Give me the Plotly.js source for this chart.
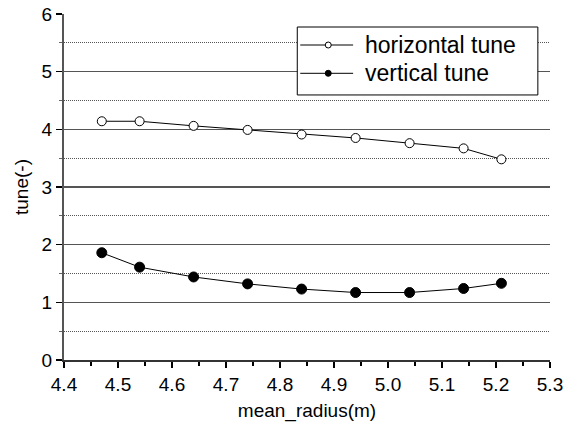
<!DOCTYPE html>
<html>
<head>
<meta charset="utf-8">
<script src="https://cdn.plot.ly/plotly-3.0.1.min.js"></script>
<style>html,body{margin:0;padding:0;background:#fff}#chart{width:565px;height:428px}</style>
</head>
<body>
<div id="chart"></div>
<script>
// Mean radius (m) and betatron tunes
const meanRadius = [4.47, 4.54, 4.64, 4.74, 4.84, 4.94, 5.04, 5.14, 5.21];
const horizontalTune = [4.14, 4.14, 4.06, 3.99, 3.91, 3.85, 3.76, 3.67, 3.48];
const verticalTune = [1.86, 1.61, 1.44, 1.32, 1.23, 1.17, 1.17, 1.24, 1.33];
const xTickLabels = ['4.4', '4.5', '4.6', '4.7', '4.8', '4.9', '5.0', '5.1', '5.2', '5.3'];
const seriesNames = ['horizontal tune', 'vertical tune'];
const xTickValues = xTickLabels.map(Number);

const font = {family: 'Liberation Sans, Arial, sans-serif', color: '#000'};
const f = size => Object.assign({size: size}, font);

const traces = [
  {
    x: meanRadius, y: horizontalTune, name: seriesNames[0],
    mode: 'lines+markers', type: 'scatter',
    line: {color: '#000', width: 1},
    marker: {symbol: 'circle', size: 9, color: '#fff', line: {color: '#000', width: 1}}
  },
  {
    x: meanRadius, y: verticalTune, name: seriesNames[1],
    mode: 'lines+markers', type: 'scatter',
    line: {color: '#000', width: 1},
    marker: {symbol: 'circle', size: 10, color: '#000', line: {color: '#000', width: 1}}
  }
];

// Boxed key in the upper right: frame, a short line with a small marker, and a label per series
const key = {x0: 0.48, x1: 0.975, y0: 0.766, y1: 0.9624,
             lineX0: 0.4861, lineX1: 0.5949, dotX: 0.5437, textX: 0.6156,
             rows: [0.9104, 0.8286], fills: ['#fff', '#000']};
const shapes = [{
  type: 'rect', xref: 'paper', yref: 'paper',
  x0: key.x0, x1: key.x1, y0: key.y0, y1: key.y1,
  line: {color: '#000', width: 1}, fillcolor: '#fff', layer: 'above'
}];
const annotations = [];
key.rows.forEach((ry, i) => {
  shapes.push({type: 'line', xref: 'paper', yref: 'paper', x0: key.lineX0, x1: key.lineX1, y0: ry, y1: ry,
               line: {color: '#000', width: 1}, layer: 'above'});
  shapes.push({type: 'circle', xref: 'paper', yref: 'paper', xsizemode: 'pixel', ysizemode: 'pixel',
               xanchor: key.dotX, yanchor: ry, x0: -3, x1: 3, y0: -3, y1: 3,
               fillcolor: key.fills[i], line: {color: '#000', width: 1}, layer: 'above'});
  annotations.push({xref: 'paper', yref: 'paper', x: key.textX, y: ry, xanchor: 'left', yanchor: 'middle',
                    text: seriesNames[i], showarrow: false, font: f(23)});
});

const layout = {
  width: 565, height: 428,
  margin: {l: 63.5, r: 15, t: 14, b: 68},
  paper_bgcolor: '#fff', plot_bgcolor: '#fff',
  font: f(19),
  showlegend: false,
  shapes: shapes,
  annotations: annotations,
  xaxis: {
    range: [4.4, 5.3], tickmode: 'array', tickvals: xTickValues, ticktext: xTickLabels,
    showgrid: false, zeroline: false,
    showline: true, linecolor: '#333', linewidth: 2,
    ticks: 'outside', ticklen: 6, tickwidth: 1.5, tickcolor: '#000',
    minor: {dtick: 0.05, ticks: 'outside', ticklen: 4, tickwidth: 1.5, tickcolor: '#000', showgrid: false},
    tickfont: f(19),
    title: {text: 'mean_radius(m)', font: f(19), standoff: 10}
  },
  yaxis: {
    range: [0, 6], dtick: 1, tick0: 0,
    showgrid: true, gridcolor: '#555', gridwidth: 1.2,
    zeroline: false,
    showline: true, linecolor: '#555', linewidth: 2,
    ticks: 'outside', ticklen: 6, tickwidth: 1.5, tickcolor: '#000',
    minor: {dtick: 0.5, ticks: 'outside', ticklen: 3, tickwidth: 1, tickcolor: '#666',
            showgrid: true, gridcolor: '#555', gridwidth: 1, griddash: '1px,1px'},
    tickfont: f(19),
    title: {text: 'tune(-)', font: f(19), standoff: 8}
  }
};

Plotly.newPlot('chart', traces, layout, {displayModeBar: false, staticPlot: true});
</script>
</body>
</html>
